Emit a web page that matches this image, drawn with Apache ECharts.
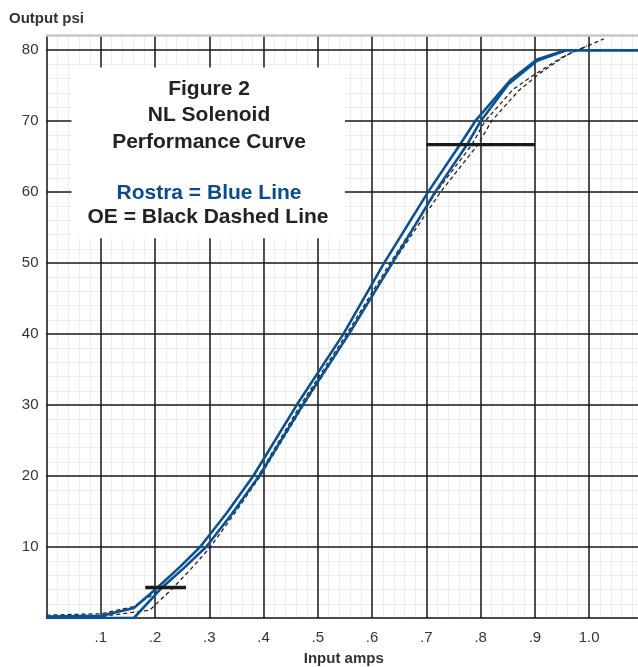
<!DOCTYPE html>
<html><head><meta charset="utf-8">
<script src="https://cdn.jsdelivr.net/npm/echarts@6/dist/echarts.min.js"></script>
<style>html,body{margin:0;padding:0;background:#fff}#c{width:638px;height:667px}</style>
</head><body><div id="c"></div>
<script>
// Tick labels
const xTickValues = [0.1, 0.2, 0.3, 0.4, 0.5, 0.6, 0.7, 0.8, 0.9, 1.0];
const xTickLabels = ['.1', '.2', '.3', '.4', '.5', '.6', '.7', '.8', '.9', '1.0'];
const yTickValues = [10, 20, 30, 40, 50, 60, 70, 80];
const yTickLabels = ['10', '20', '30', '40', '50', '60', '70', '80'];

// Rostra (blue) - two curves
const rostraUpperX = [0, 0.1, 0.161, 0.203, 0.246, 0.283, 0.332, 0.381, 0.461, 0.547, 0.622, 0.703, 0.762, 0.79, 0.855, 0.904, 0.956, 1.1];
const rostraUpperY = [0.2, 0.3, 1.4, 4.2, 7.2, 10, 14.8, 20, 30, 40, 50, 60, 66.7, 70, 75.8, 78.7, 80, 80];
const rostraLowerX = [0, 0.161, 0.213, 0.254, 0.294, 0.343, 0.392, 0.472, 0.557, 0.637, 0.716, 0.775, 0.8, 0.851, 0.904, 0.958, 1.1];
const rostraLowerY = [0, 0, 4.3, 7.1, 10, 14.8, 20, 30, 40, 50, 60, 66.7, 70, 75.2, 78.5, 80, 80];

// OE (black dashed) - two curves
const oeUpperX = [0, 0.1, 0.16, 0.2, 0.25, 0.3, 0.346, 0.39, 0.468, 0.553, 0.633, 0.718, 0.784, 0.808, 0.86, 0.9, 0.95, 0.996];
const oeUpperY = [0.4, 0.6, 1.6, 3.5, 6.8, 10.5, 15.2, 20, 30, 40, 50, 60, 66.7, 70, 74.5, 76.6, 79.0, 80.6];
const oeLowerX = [0, 0.1, 0.19, 0.23, 0.265, 0.302, 0.349, 0.394, 0.474, 0.558, 0.638, 0.726, 0.795, 0.82, 0.87, 0.91, 0.96, 1.027];
const oeLowerY = [0.1, 0.2, 1.1, 4.0, 6.8, 10, 15, 20, 30, 40, 50, 60, 66.7, 70, 74.3, 76.8, 79.4, 81.6];

// Horizontal reference bars
const barHighX = [0.7, 0.9];
const barHighY = [66.7, 66.7];
const barLowX = [0.182, 0.257];
const barLowY = [4.3, 4.3];

const zip = (xs, ys) => xs.map((x, i) => [x, ys[i]]);
const lookup = (vals, labels, v) => {
  for (let i = 0; i < vals.length; i++) if (Math.abs(vals[i] - v) < 1e-6) return labels[i];
  return '';
};

const BLUE = '#0b5190';
const FONT = '"Liberation Sans", Arial, Helvetica, sans-serif';

const curve = (xs, ys, color, width, type) => ({
  type: 'line', data: zip(xs, ys), showSymbol: false, symbol: 'none', z: 5,
  lineStyle: {color: color, width: width, type: type, join: 'round'}
});

const chart = echarts.init(document.getElementById('c'), null, {renderer: 'canvas'});
chart.setOption({
  animation: false,
  backgroundColor: '#fff',
  grid: {left: 46.5, top: 36, right: -3, bottom: 49, containLabel: false, outerBoundsMode: 'none'},
  xAxis: [
    {
      type: 'value', min: 0, max: 1.0955, interval: 0.1, z: 1,
      axisLine: {show: true, lineStyle: {color: '#111', width: 1.5}},
      axisTick: {show: false},
      axisLabel: {margin: 12, fontSize: 15, color: '#333', fontFamily: FONT,
        formatter: v => lookup(xTickValues, xTickLabels, v)},
      splitLine: {show: true, showMinLine: false, showMaxLine: false, lineStyle: {color: '#1a1a1a', width: 1.5}},
      name: 'Input amps', nameLocation: 'middle', nameGap: 33,
      nameTextStyle: {fontSize: 15, fontWeight: 'bold', color: '#333', fontFamily: FONT}
    },
    {
      type: 'value', min: 0, max: 1.0955, interval: 0.02, z: 0,
      axisLine: {show: false}, axisTick: {show: false}, axisLabel: {show: false},
      splitLine: {show: true, showMinLine: false, showMaxLine: false, lineStyle: {color: '#ececec', width: 1}}
    }
  ],
  yAxis: [
    {
      type: 'value', min: 0, max: 82, interval: 10, z: 1,
      axisLine: {show: true, lineStyle: {color: '#111', width: 1.5}},
      axisTick: {show: false},
      axisLabel: {margin: 8, fontSize: 15, color: '#333', fontFamily: FONT,
        formatter: v => lookup(yTickValues, yTickLabels, v)},
      splitLine: {show: true, showMinLine: false, showMaxLine: false, lineStyle: {color: '#1a1a1a', width: 1.5}}
    },
    {
      type: 'value', min: 0, max: 82, interval: 2, z: 0,
      axisLine: {show: false}, axisTick: {show: false}, axisLabel: {show: false},
      splitLine: {show: true, showMinLine: false, showMaxLine: false, lineStyle: {color: '#ececec', width: 1}}
    }
  ],
  series: [
    {
      type: 'line', xAxisIndex: 0, yAxisIndex: 0, data: [], silent: true, z: 4,
      markArea: {silent: true, itemStyle: {color: '#ffffff', opacity: 1},
        data: [[{coord: [0.046, 77.56]}, {coord: [0.550, 53.5]}]]}
    },
    curve(oeUpperX, oeUpperY, '#222', 1.3, [4, 3]),
    curve(oeLowerX, oeLowerY, '#222', 1.3, [4, 3]),
    curve(rostraUpperX, rostraUpperY, BLUE, 2.6, 'solid'),
    curve(rostraLowerX, rostraLowerY, BLUE, 2.6, 'solid'),
    {type: 'line', data: zip(barHighX, barHighY), showSymbol: false, symbol: 'none', z: 6,
      lineStyle: {color: '#1a1a1a', width: 3.4}},
    {type: 'line', data: zip(barLowX, barLowY), showSymbol: false, symbol: 'none', z: 6,
      lineStyle: {color: '#1a1a1a', width: 3.4}}
  ],
  graphic: [
    {type: 'line', shape: {x1: 46, y1: 35.5, x2: 638, y2: 35.5}, z: 100,
      style: {stroke: '#c8c8c8', lineWidth: 2.5}},
    {type: 'text', left: 9, top: 11, z: 100,
      style: {text: 'Output psi', font: 'bold 15px ' + FONT, fill: '#333'}},
    {type: 'text', x: 209, y: 89, z: 100,
      style: {text: 'Figure 2', font: 'bold 21px ' + FONT, fill: '#222', align: 'center', verticalAlign: 'middle'}},
    {type: 'text', x: 209, y: 115.5, z: 100,
      style: {text: 'NL Solenoid', font: 'bold 21px ' + FONT, fill: '#222', align: 'center', verticalAlign: 'middle'}},
    {type: 'text', x: 209, y: 142, z: 100,
      style: {text: 'Performance Curve', font: 'bold 21px ' + FONT, fill: '#222', align: 'center', verticalAlign: 'middle'}},
    {type: 'text', x: 209, y: 193, z: 100,
      style: {text: 'Rostra = Blue Line', font: 'bold 21px ' + FONT, fill: '#0a4c8a', align: 'center', verticalAlign: 'middle'}},
    {type: 'text', x: 208, y: 217, z: 100,
      style: {text: 'OE = Black Dashed Line', font: 'bold 21px ' + FONT, fill: '#222', align: 'center', verticalAlign: 'middle'}}
  ]
});
</script>
</body></html>
